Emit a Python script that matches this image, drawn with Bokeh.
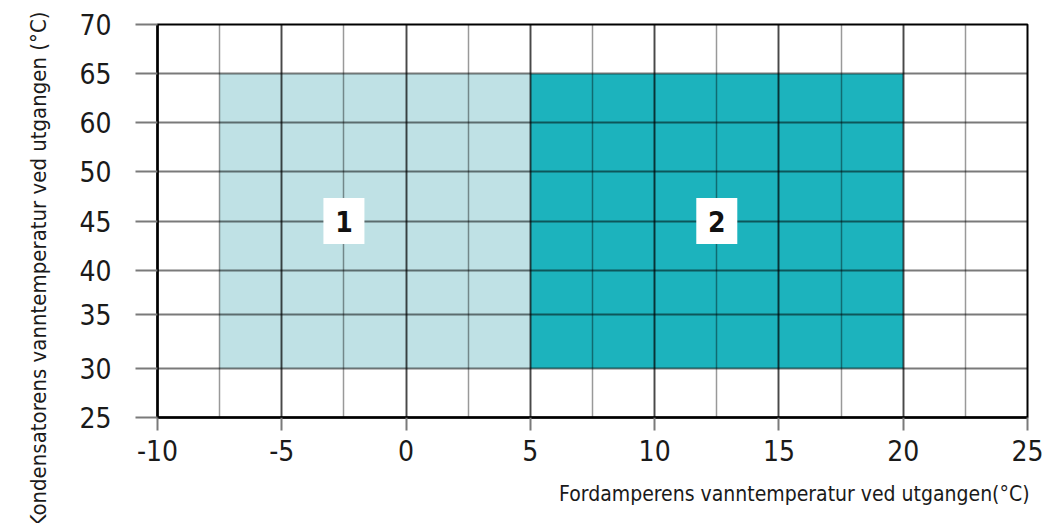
import math
from bokeh.plotting import figure
from bokeh.models import Range1d, FixedTicker, SingleIntervalTicker, Title, ColumnDataSource
from bokeh.core.properties import value
from bokeh.embed import file_html
from bokeh.resources import INLINE

# ---- data ----
x_ticks = [-10, -5, 0, 5, 10, 15, 20, 25]
x_tick_labels = ["-10", "-5", "0", "5", "10", "15", "20", "25"]
y_tick_labels = ["25", "30", "35", "40", "45", "50", "60", "65", "70"]
y_tick_pos = [0, 1, 2.1, 3, 4, 5, 6, 7, 8]   # positions of the (non-uniform) y scale
zone_names = ["1", "2"]
zone_x_min = [-7.5, 5]
zone_x_max = [5, 20]
zone_y_min = [30, 30]
zone_y_max = [65, 65]
label_x = [-2.5, 12.5]
label_y = [45, 45]
zone_colors = ["#bfe1e5", "#1cb3bd"]

x_title = "Fordamperens vanntemperatur ved utgangen(°C)"
y_title = "Kondensatorens vanntemperatur ved utgangen (°C)"

ymap = {int(l): p for l, p in zip(y_tick_labels, y_tick_pos)}

FONT = "DejaVu Sans Condensed"

p = figure(width=1043, height=523, output_backend="svg", toolbar_location=None,
           x_range=Range1d(-10, 25), y_range=Range1d(0, 8),
           min_border_left=157, min_border_right=16, min_border_top=24, min_border_bottom=106)
p.background_fill_color = "white"
p.border_fill_color = "white"
p.outline_line_color = "black"
p.outline_line_width = 2

# zones
src = ColumnDataSource(dict(
    left=zone_x_min, right=zone_x_max,
    bottom=[ymap[v] for v in zone_y_min], top=[ymap[v] for v in zone_y_max],
    color=zone_colors))
p.quad(left="left", right="right", bottom="bottom", top="top", fill_color="color",
       line_color=None, source=src)

# grids on top of zones
p.xgrid.ticker = SingleIntervalTicker(interval=5, num_minor_ticks=2)
p.xgrid.grid_line_color = "black"
p.xgrid.grid_line_alpha = 0.52
p.xgrid.grid_line_width = 2
p.xgrid.minor_grid_line_color = "black"
p.xgrid.minor_grid_line_alpha = 0.4
p.xgrid.minor_grid_line_width = 1.5
p.xgrid.level = "guide"
p.ygrid.ticker = FixedTicker(ticks=y_tick_pos)
p.ygrid.grid_line_color = "black"
p.ygrid.grid_line_alpha = 0.52
p.ygrid.grid_line_width = 2
p.ygrid.level = "guide"

# axes
p.xaxis.ticker = FixedTicker(ticks=x_ticks)
p.xaxis.major_label_overrides = {t: l for t, l in zip(x_ticks, x_tick_labels)}
p.xaxis.axis_line_color = "black"
p.xaxis.axis_line_width = 2.5
p.xaxis.major_tick_line_color = "#7a7a7a"
p.xaxis.major_tick_line_width = 2
p.xaxis.major_tick_out = 13
p.xaxis.major_tick_in = 0
p.xaxis.minor_tick_line_color = None
p.xaxis.major_label_standoff = 9
p.xaxis.major_label_text_font = FONT
p.xaxis.major_label_text_font_size = "28px"
p.xaxis.major_label_text_color = "#1a1a1a"

p.yaxis.ticker = FixedTicker(ticks=y_tick_pos)
p.yaxis.major_label_overrides = {pos: lab for pos, lab in zip(y_tick_pos, y_tick_labels)}
p.yaxis.axis_line_color = "black"
p.yaxis.axis_line_width = 2.5
p.yaxis.major_tick_line_color = "#7a7a7a"
p.yaxis.major_tick_line_width = 2
p.yaxis.major_tick_out = 22
p.yaxis.major_tick_in = 0
p.yaxis.minor_tick_line_color = None
p.yaxis.major_label_standoff = 24
p.yaxis.major_label_text_font = FONT
p.yaxis.major_label_text_font_size = "28px"
p.yaxis.major_label_text_color = "#1a1a1a"

# zone number boxes
lsrc = ColumnDataSource(dict(x=label_x, y=[ymap[v] for v in label_y], t=zone_names))
p.rect(x="x", y="y", width=41, height=46, width_units="screen", height_units="screen",
       fill_color="white", line_color=None, source=lsrc, level="overlay")
p.text(x="x", y="y", text="t", text_align="center", text_baseline="middle",
       text_font=value(FONT), text_font_style="bold", text_font_size="28px",
       text_color="#111111", source=lsrc, level="overlay")

# axis titles
p.add_layout(Title(text=x_title, align="right", offset=-2, standoff=32,
                   text_font=FONT, text_font_style="normal", text_font_size="21px",
                   text_color="#1a1a1a"), "below")
p.add_layout(Title(text=y_title, align="left", vertical_align="top", offset=-110, standoff=48,
                   text_font=FONT, text_font_style="normal", text_font_size="22px",
                   text_color="#1a1a1a"), "left")

open("out.html", "w").write(file_html(p, INLINE))
